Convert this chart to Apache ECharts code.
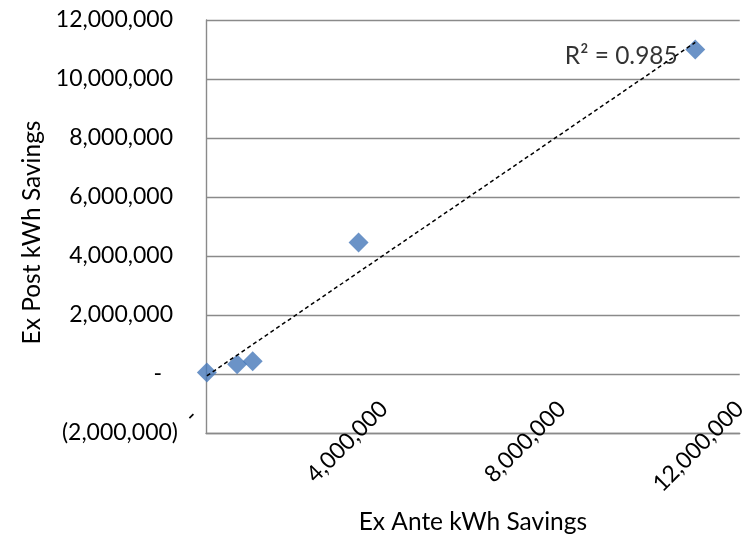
<!DOCTYPE html>
<html>
<head>
<meta charset="utf-8">
<script src="https://cdn.jsdelivr.net/npm/echarts@6/dist/echarts.min.js"></script>
<style>
  html, body { margin: 0; padding: 0; background: #fff; }
  #chart { width: 750px; height: 541px; }
</style>
</head>
<body>
<div id="chart"></div>
<script>
// Savings per project: ex ante estimate vs. ex post evaluated (kWh)
const exAnteKWh = [20000, 700000, 1050000, 3430000, 11000000];
const exPostKWh = [50000, 330000, 430000, 4460000, 11000000];
const rSquaredText = 'R² = 0.985';

const xTicks = { min: 0, max: 12000000, interval: 4000000 };
const yTicks = { min: -2000000, max: 12000000, interval: 2000000 };

const FONT = 'Lato';
const FS = 23;
const NAME_FS = 24.5;

function withCommas(v) {
  return String(Math.round(Math.abs(v))).replace(/\B(?=(\d{3})+(?!\d))/g, ',');
}

// least-squares linear trend across the data range
function linearFit(xs, ys) {
  const n = xs.length;
  const mx = xs.reduce((a, b) => a + b, 0) / n;
  const my = ys.reduce((a, b) => a + b, 0) / n;
  let sxx = 0, sxy = 0;
  for (let i = 0; i < n; i++) {
    sxx += (xs[i] - mx) * (xs[i] - mx);
    sxy += (xs[i] - mx) * (ys[i] - my);
  }
  const slope = sxy / sxx;
  return { slope, intercept: my - slope * mx };
}

const fit = linearFit(exAnteKWh, exPostKWh);
const xLo = Math.min(...exAnteKWh);
const xHi = Math.max(...exAnteKWh);
const trend = [
  [xLo, fit.intercept + fit.slope * xLo],
  [xHi, fit.intercept + fit.slope * xHi]
];

const points = exAnteKWh.map((x, i) => [x, exPostKWh[i]]);
const gridColor = '#8a8a8a';

const chart = echarts.init(document.getElementById('chart'));
chart.setOption({
  animation: false,
  backgroundColor: '#fff',
  textStyle: { fontFamily: FONT },
  grid: { left: 206, right: 5, top: 20, bottom: 108, containLabel: false },
  xAxis: {
    type: 'value',
    min: xTicks.min,
    max: xTicks.max,
    interval: xTicks.interval,
    name: 'Ex Ante kWh Savings',
    nameLocation: 'middle',
    nameGap: 77,
    nameTextStyle: { color: '#000', fontFamily: FONT, fontSize: NAME_FS },
    axisLine: { show: true, onZero: false, lineStyle: { color: gridColor, width: 1.4 } },
    axisTick: { show: false },
    splitLine: { show: false },
    axisLabel: {
      rotate: 45,
      margin: -28,
      color: '#000',
      fontFamily: FONT,
      fontSize: FS,
      formatter: v => v === 0 ? '{z|-}' : '{p|' + withCommas(v) + '}',
      rich: {
        p: { fontFamily: FONT, fontSize: FS, color: '#000' },
        z: { fontFamily: FONT, fontSize: FS, color: '#000', padding: [0, 14, 6, 0] }
      }
    }
  },
  yAxis: {
    type: 'value',
    min: yTicks.min,
    max: yTicks.max,
    interval: yTicks.interval,
    name: 'Ex Post kWh Savings',
    nameLocation: 'middle',
    nameGap: 149,
    nameTextStyle: { color: '#000', fontFamily: FONT, fontSize: NAME_FS, padding: [0, 12, 0, 0] },
    axisLine: { show: true, onZero: false, lineStyle: { color: gridColor, width: 1.4 } },
    axisTick: { show: false },
    splitLine: { show: true, lineStyle: { color: gridColor, width: 1.4 } },
    axisLabel: {
      margin: 28,
      color: '#000',
      fontFamily: FONT,
      fontSize: FS,
      formatter: v => {
        if (v === 0) return '{z|-}';
        if (v < 0) return '{n|(' + withCommas(v) + ')}';
        return '{p|' + withCommas(v) + '}';
      },
      rich: {
        p: { fontFamily: FONT, fontSize: FS, color: '#000', padding: [0, 5, 0, 0] },
        n: { fontFamily: FONT, fontSize: FS, color: '#000' },
        z: { fontFamily: FONT, fontSize: FS, color: '#000', padding: [0, 16, 0, 0] }
      }
    }
  },
  series: [
    {
      type: 'scatter',
      data: points,
      symbol: 'diamond',
      symbolSize: 20,
      itemStyle: { color: '#4678B9' },
      z: 2
    },
    {
      type: 'line',
      data: trend,
      symbol: 'none',
      lineStyle: { color: '#000', width: 1.5, type: [4, 3] },
      z: 3
    },
    {
      // carrier for the R² annotation at the upper end of the trend line
      type: 'scatter',
      data: [trend[1]],
      symbol: 'circle',
      symbolSize: 1,
      itemStyle: { color: 'rgba(0,0,0,0)' },
      silent: true,
      z: 4,
      label: {
        show: true,
        formatter: rSquaredText,
        position: 'left',
        distance: 17,
        offset: [0, 14],
        color: '#000',
        fontFamily: FONT,
        fontSize: NAME_FS
      }
    }
  ]
});
</script>
</body>
</html>
